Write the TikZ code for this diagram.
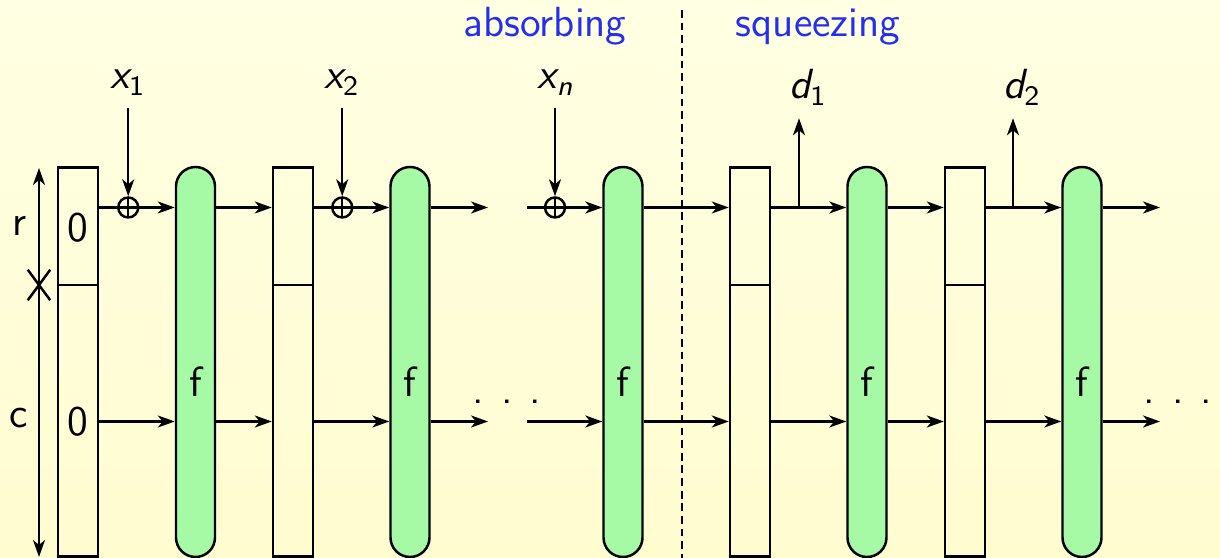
\documentclass[tikz,border=0pt]{standalone}
\usepackage{amsmath}
\usepackage{xcolor}
\usepackage{tikz}
\usetikzlibrary{arrows.meta,positioning,shapes.misc}
\renewcommand{\familydefault}{\sfdefault}
\definecolor{bgtop}    {RGB}{255,255,227}
\definecolor{bgbot}    {RGB}{255,252,208}
\definecolor{fgreen}   {RGB}{166,250,166}
\definecolor{phaseblue}{RGB}{35,45,245}
\tikzset{
  regbox/.style ={draw, minimum width=4mm, minimum height=38.9mm, inner sep=0pt},
  fbox/.style   ={draw, fill=fgreen, minimum width=3.9mm, minimum height=39mm,
                  rounded corners=1.95mm, inner sep=0pt},
  xorop/.style  ={draw, circle, minimum size=2mm, inner sep=0pt,
                  path picture={\draw[line width=0.7pt]
                    (path picture bounding box.north) -- (path picture bounding box.south)
                    (path picture bounding box.west) -- (path picture bounding box.east);}},
  lbl/.style    ={anchor=base},
  phase/.style  ={anchor=base, text=phaseblue},
  arr/.style    ={-{Stealth[length=1.7mm,width=1.2mm,inset=0.5mm]}},
  darr/.style   ={{Stealth[length=1.7mm,width=1.2mm,inset=0.5mm]}-{Stealth[length=1.7mm,width=1.2mm,inset=0.5mm]}},
  %% phase separator
  sepline/.style={dashed, dash pattern=on 2.2pt off 1.4pt},
}

\begin{document}
\begin{tikzpicture}[x=0.1mm,y=-0.1mm,line width=0.7pt,
                    font=\fontsize{12pt}{14pt}\selectfont]
  \useasboundingbox (0,0) rectangle (1220,558);
  \shade[top color=bgtop, bottom color=bgbot] (0,0) rectangle (1220,558);
  \coordinate (rtop)  at (0,207.5);
  \coordinate (cbot)  at (0,421.5);
  \coordinate (split) at (0,285);
  \coordinate (gapL)  at (488,0);
  \coordinate (gapR)  at (527,0);
  \coordinate (endR)  at (1160,0);
  \node[regbox] (reg1) at (78,362) {};
  \node[fbox]   (f1)   at (195.5,362) {};
  \node[regbox] (reg2) at (293,362) {};
  \node[fbox]   (f2)   at (410,362) {};
  \node[fbox]   (f3)   at (623,362) {};
  \node[regbox] (reg4) at (750,362) {};
  \node[fbox]   (f4)   at (867,362) {};
  \node[regbox] (reg5) at (965,362) {};
  \node[fbox]   (f5)   at (1082,362) {};
  \foreach \r in {reg1,reg2,reg4,reg5}
    \draw (\r.west |- split) -- (\r.east |- split);
  \foreach \f in {f1,f2,f3,f4,f5}
    \node at ([yshift=-2mm]\f.center) {f};
  \node at ([yshift=-2mm]reg1 |- rtop) {0};
  \node at (reg1 |- cbot) {0};
  \foreach \a/\b in {reg1/f1,f1/reg2,reg2/f2,f3/reg4,reg4/f4,f4/reg5,reg5/f5}
    \foreach \row in {rtop,cbot}
      \draw[arr] (\a.east |- \row) -- (\b.west |- \row);
  \foreach \row in {rtop,cbot} {
    \draw[arr] (f2.east |- \row) -- (gapL |- \row);
    \draw[arr] (gapR |- \row) -- (f3.west |- \row);
    \draw[arr] (f5.east |- \row) -- (endR |- \row);
  }
  \node[lbl] (dotsL) at (507,404) {.\hspace{4.9pt}.\hspace{4.9pt}.};
  \node[lbl] (dotsR) at (1178,404) {.\hspace{4.9pt}.\hspace{4.9pt}.};
  % inputs
  \node[xorop] (o1) at ([xshift=2.9mm]reg1.east |- rtop) {};
  \node[xorop] (o2) at ([xshift=2.8mm]reg2.east |- rtop) {};
  \node[xorop] (on) at ([xshift=2.8mm]gapR |- rtop) {};
  \node[lbl] (x1) at (128,89) {$\textsl{x}_{\textsf{1}}$};
  \node[lbl] (x2) at (342,89) {$\textsl{x}_{\textsf{2}}$};
  \node[lbl] (xn) at (556,89) {$\textsl{x}_{\textsl{n}}$};
  \draw[arr] (x1.south -| o1) -- (o1.north);
  \draw[arr] (x2.south -| o2) -- (o2.north);
  \draw[arr] (xn.south -| on) -- (on.north);
  % outputs
  \coordinate (tap1) at (799,207.5);
  \coordinate (tap2) at (1013,207.5);
  \node[lbl] (d1) at (808,99) {$\textsl{d}_{\textsf{1}}$};
  \node[lbl] (d2) at (1022,99) {$\textsl{d}_{\textsf{2}}$};
  \draw[arr] (tap1) -- (tap1 |- d1.south);
  \draw[arr] (tap2) -- (tap2 |- d2.south);
  % rate and capacity
  \coordinate (dtop) at (39,168);
  \coordinate (dbot) at (39,557);
  \draw[darr] (dtop) -- (dbot);
  \node[draw, cross out, minimum width=2mm, minimum height=2.8mm, inner sep=0pt] (cut) at (39,285) {};
  \node[lbl] (rlab) at (20,236) {r};
  \node[lbl] (clab) at (19,428) {c};
  % phases
  \coordinate (phtop) at (682,10);
  \coordinate (phbot) at (682,558);
  \draw[sepline] (phtop) -- (phbot);
  \node[phase] (absb) at (545,37) {absorbing};
  \node[phase] (sqz) at (818,37) {squeezing};
\end{tikzpicture}
\end{document}
